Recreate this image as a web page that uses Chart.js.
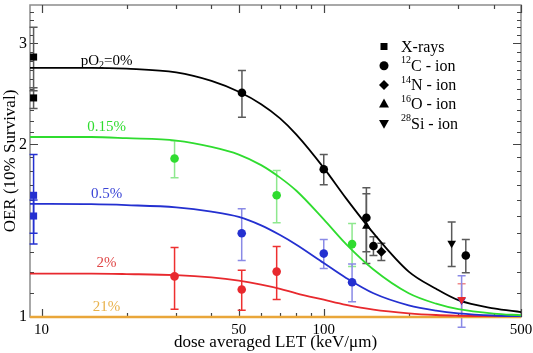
<!DOCTYPE html>
<html>
<head>
<meta charset="utf-8">
<script src="https://cdn.jsdelivr.net/npm/chart.js@4.4.1/dist/chart.umd.min.js"></script>
<style>
  html, body { margin: 0; padding: 0; background: #fff; }
  #wrap { width: 533px; height: 353px; }
</style>
</head>
<body>
<div id="wrap"><canvas id="oer" width="533" height="353"></canvas></div>
<script>
/* OER (10% survival) vs dose averaged LET, fitted curves per oxygen level */
const SERIF = "'Liberation Serif', 'Times New Roman', serif";

// fitted curves
const LET_GRID = [9.1, 15, 20, 30, 40, 50, 60, 70, 80, 100, 120, 150, 200, 250, 300, 400, 500];
const FIT_0   = [2.72, 2.72, 2.71, 2.67, 2.58, 2.47, 2.35, 2.22, 2.08, 1.82, 1.61, 1.40, 1.20, 1.12, 1.07, 1.035, 1.02];
const FIT_015 = [2.06, 2.06, 2.05, 2.03, 1.98, 1.92, 1.84, 1.75, 1.66, 1.48, 1.34, 1.21, 1.10, 1.055, 1.032, 1.014, 1.007];
const FIT_05  = [1.575, 1.573, 1.567, 1.553, 1.527, 1.495, 1.445, 1.39, 1.337, 1.242, 1.17, 1.10, 1.048, 1.026, 1.015, 1.006, 1.003];
const FIT_2   = [1.19, 1.19, 1.188, 1.183, 1.172, 1.157, 1.139, 1.12, 1.10, 1.072, 1.05, 1.03, 1.015, 1.008, 1.005, 1.002, 1.001];
const FIT_21  = [1, 1, 1, 1, 1, 1, 1, 1, 1, 1, 1, 1, 1, 1, 1, 1, 1];

// measured points (LET, OER, +/- error)
const XRAY_LET = [9.37, 9.37];
const XRAY_OER_0 = [2.84, 2.41];     const XRAY_ERR_0 = [0.36, 0.10];
const XRAY_OER_05 = [1.63, 1.50];    const XRAY_ERR_05 = [0.29, 0.10];

const C_LET_0 = [51.3, 100, 141.6, 150, 318.7];
const C_OER_0 = [2.46, 1.81, 1.49, 1.33, 1.28];
const C_ERR_0 = [0.23, 0.11, 0.19, 0.05, 0.085];
const N_LET_0 = [160];   const N_OER_0 = [1.30];  const N_ERR_0 = [0.045];
const O_LET_0 = [141.6]; const O_OER_0 = [1.44];  const O_ERR_0 = [0.20];
const SI_LET_0 = [284];  const SI_OER_0 = [1.345]; const SI_ERR_0 = [0.12];

const C_LET_015 = [29.6, 68.1, 126];
const C_OER_015 = [1.89, 1.63, 1.34];
const C_ERR_015 = [0.14, 0.17, 0.115];

const C_LET_05 = [51.2, 100, 126];
const C_OER_05 = [1.40, 1.29, 1.15];
const C_ERR_05 = [0.145, 0.075, 0.087];
const SI_LET_05 = [308]; const SI_OER_05 = [1.07]; const SI_ERR_05 = [0.11];

const C_LET_2 = [29.6, 51.2, 68.1];
const C_OER_2 = [1.177, 1.117, 1.20];
const C_ERR_2 = [0.145, 0.09, 0.127];
const SI_LET_2 = [308]; const SI_OER_2 = [1.073]; const SI_ERR_2 = [0.07];

// axes
const X_TICKS = [10, 20, 30, 40, 50, 60, 70, 80, 90, 100, 200, 300, 400, 500];
const X_LABELS = [10, 50, 100, 500];
const Y_TICKS = [1, 1.1, 1.2, 1.3, 1.4, 1.5, 1.6, 1.7, 1.8, 1.9, 2, 2.1, 2.2, 2.3, 2.4, 2.5, 2.6, 2.7, 2.8, 2.9, 3, 3.1, 3.2, 3.3, 3.4];
const Y_LABELS = [1, 2, 3];

const COL = { k:'#000000', g:'#2fdc2f', b:'#2430d0', r:'#e8292e', o:'#e9a63a' };
const ERRCOL = { k:'#5a5a5a', g:'#8ee88e', b:'#8a8ae6', r:'#ee3030', rl:'#f08a8a', bs:'#2430d0' };

const pts = (xs, ys) => xs.map((x, i) => ({ x: x, y: ys[i] }));

function markers(label, xs, ys, errs, style, color, errColor, rot) {
  return {
    type: 'scatter', label: label, data: pts(xs, ys), errors: errs, errColor: errColor,
    pointStyle: style, pointRotation: rot || 0, clip: false,
    pointRadius: style === 'circle' ? 4.3 : 5, pointHoverRadius: 5,
    backgroundColor: color, borderColor: color, borderWidth: 0
  };
}
function curve(label, ys, color) {
  return {
    type: 'line', label: label, data: pts(LET_GRID, ys),
    borderColor: color, borderWidth: 1.8, pointRadius: 0, fill: false,
    cubicInterpolationMode: 'monotone'
  };
}

const datasets = [
  markers('Si 2%', SI_LET_2, SI_OER_2, SI_ERR_2, 'triangle', COL.r, ERRCOL.rl, 180),
  markers('Si 0.5%', SI_LET_05, SI_OER_05, SI_ERR_05, 'triangle', COL.b, ERRCOL.b, 180),
  markers('X-rays 0%', XRAY_LET, XRAY_OER_0, XRAY_ERR_0, 'rect', COL.k, ERRCOL.k),
  markers('X-rays 0.5%', XRAY_LET, XRAY_OER_05, XRAY_ERR_05, 'rect', COL.b, ERRCOL.bs),
  markers('C 0%', C_LET_0, C_OER_0, C_ERR_0, 'circle', COL.k, ERRCOL.k),
  markers('N 0%', N_LET_0, N_OER_0, N_ERR_0, 'rectRot', COL.k, ERRCOL.k),
  markers('O 0%', O_LET_0, O_OER_0, O_ERR_0, 'triangle', COL.k, ERRCOL.k),
  markers('Si 0%', SI_LET_0, SI_OER_0, SI_ERR_0, 'triangle', COL.k, ERRCOL.k, 180),
  markers('C 0.15%', C_LET_015, C_OER_015, C_ERR_015, 'circle', COL.g, ERRCOL.g),
  markers('C 0.5%', C_LET_05, C_OER_05, C_ERR_05, 'circle', COL.b, ERRCOL.b),
  markers('C 2%', C_LET_2, C_OER_2, C_ERR_2, 'circle', COL.r, ERRCOL.r),
  curve('fit 0%', FIT_0, COL.k),
  curve('fit 0.15%', FIT_015, COL.g),
  curve('fit 0.5%', FIT_05, COL.b),
  curve('fit 2%', FIT_2, COL.r),
  Object.assign(curve('fit 21%', FIT_21, COL.o), { borderWidth: 2.6, clip: false })
];

// error bars under the markers
const errorBars = {
  id: 'errorBars',
  beforeDatasetsDraw(chart) {
    const ctx = chart.ctx, ys = chart.scales.y;
    chart.data.datasets.forEach((ds, di) => {
      if (!ds.errors) return;
      const meta = chart.getDatasetMeta(di);
      ctx.save();
      ctx.strokeStyle = ds.errColor;
      ctx.lineWidth = 1.5;
      meta.data.forEach((el, i) => {
        const v = ds.data[i].y, e = ds.errors[i];
        const top = ys.getPixelForValue(v + e), bot = ys.getPixelForValue(v - e);
        ctx.beginPath();
        ctx.moveTo(el.x, top); ctx.lineTo(el.x, bot);
        ctx.moveTo(el.x - 4, top); ctx.lineTo(el.x + 4, top);
        ctx.moveTo(el.x - 4, bot); ctx.lineTo(el.x + 4, bot);
        ctx.stroke();
      });
      ctx.restore();
    });
  }
};

// frame with inward ticks on all four sides
const frame = {
  id: 'frame',
  beforeDatasetsDraw(chart) {
    const { ctx, chartArea: a, scales } = chart;
    ctx.save();
    ctx.strokeStyle = '#8c8c8c';
    ctx.lineWidth = 1.5;
    ctx.strokeRect(a.left, a.top, a.right - a.left, a.bottom - a.top);
    ctx.strokeStyle = '#444';
    ctx.lineWidth = 1.2;
    ctx.beginPath();
    X_TICKS.forEach(v => {
      const px = Math.round(scales.x.getPixelForValue(v)) + 0.5;
      const len = X_LABELS.includes(v) ? 8 : 4;
      ctx.moveTo(px, a.bottom); ctx.lineTo(px, a.bottom - len);
      ctx.moveTo(px, a.top); ctx.lineTo(px, a.top + len);
    });
    Y_TICKS.forEach(v => {
      const py = Math.round(scales.y.getPixelForValue(v)) + 0.5;
      const len = Y_LABELS.includes(v) ? 8 : 4;
      ctx.moveTo(a.left, py); ctx.lineTo(a.left + len, py);
      ctx.moveTo(a.right, py); ctx.lineTo(a.right - len, py);
    });
    ctx.stroke();
    ctx.restore();
  }
};

function drawMarker(ctx, style, x, y, r, rot) {
  ctx.save();
  ctx.translate(x, y);
  ctx.rotate((rot || 0) * Math.PI / 180);
  ctx.beginPath();
  if (style === 'rect') { ctx.rect(-r * 0.7, -r * 0.7, r * 1.4, r * 1.4); }
  else if (style === 'circle') { ctx.arc(0, 0, r, 0, Math.PI * 2); }
  else if (style === 'rectRot') { ctx.moveTo(0, -r); ctx.lineTo(r, 0); ctx.lineTo(0, r); ctx.lineTo(-r, 0); ctx.closePath(); }
  else { ctx.moveTo(0, -r); ctx.lineTo(r * 0.9, r * 0.6); ctx.lineTo(-r * 0.9, r * 0.6); ctx.closePath(); }
  ctx.fill();
  ctx.restore();
}

// legend (with isotope superscripts) and curve labels
const LEGEND_ITEMS = [
  { sup: '', text: 'X-rays', style: 'rect', r: 5 },
  { sup: '12', text: 'C - ion', style: 'circle', r: 4.5 },
  { sup: '14', text: 'N - ion', style: 'rectRot', r: 5 },
  { sup: '16', text: 'O - ion', style: 'triangle', r: 5.5 },
  { sup: '28', text: 'Si - ion', style: 'triangle', r: 5.5, rot: 180 }
];
const CURVE_LABELS = [
  { x: 17, y: 2.79, text: 'pO', sub: '2', rest: '=0%', color: COL.k },
  { x: 17, y: 2.14, text: '0.15%', color: COL.g },
  { x: 17, y: 1.64, text: '0.5%', color: '#3b45d6' },
  { x: 17, y: 1.24, text: '2%', color: '#e04848' },
  { x: 17, y: 1.042, text: '21%', color: '#e8b24c' }
];

const annotations = {
  id: 'annotations',
  afterDraw(chart) {
    const { ctx, scales } = chart;
    ctx.save();
    ctx.textBaseline = 'middle';
    // legend
    LEGEND_ITEMS.forEach((it, i) => {
      const y = 46.5 + i * 19.2;
      ctx.fillStyle = '#000';
      drawMarker(ctx, it.style, 384, y, it.r, it.rot);
      let x = 401;
      if (it.sup) {
        ctx.font = '10px ' + SERIF;
        ctx.textAlign = 'left';
        ctx.fillText(it.sup, x, y - 5);
        x += ctx.measureText(it.sup).width;
      }
      ctx.font = '16px ' + SERIF;
      ctx.fillText(it.text, x, y + 1);
    });
    // curve labels
    CURVE_LABELS.forEach(l => {
      const cx = scales.x.getPixelForValue(l.x), cy = scales.y.getPixelForValue(l.y);
      ctx.fillStyle = l.color;
      ctx.font = '15px ' + SERIF;
      if (l.sub) {
        const w1 = ctx.measureText(l.text).width, w3 = ctx.measureText(l.rest).width;
        ctx.font = '10px ' + SERIF;
        const w2 = ctx.measureText(l.sub).width;
        let x = cx - (w1 + w2 + w3) / 2;
        ctx.textAlign = 'left';
        ctx.font = '15px ' + SERIF;
        ctx.fillText(l.text, x, cy); x += w1;
        ctx.font = '10px ' + SERIF;
        ctx.fillText(l.sub, x, cy + 4); x += w2;
        ctx.font = '15px ' + SERIF;
        ctx.fillText(l.rest, x, cy);
      } else {
        ctx.textAlign = 'center';
        ctx.fillText(l.text, cx, cy);
      }
    });
    ctx.restore();
  }
};

new Chart(document.getElementById('oer'), {
  data: { datasets: datasets },
  options: {
    responsive: false,
    animation: false,
    devicePixelRatio: 1,
    layout: { padding: { top: 3, right: 12, left: 0, bottom: 0 } },
    plugins: { legend: { display: false }, tooltip: { enabled: false } },
    scales: {
      x: {
        type: 'logarithmic', min: 9.1, max: 500,
        grid: { display: false, drawTicks: false }, border: { display: false },
        afterBuildTicks: s => { s.ticks = X_TICKS.map(v => ({ value: v })); },
        afterFit: s => { s.height = 36; s.paddingLeft = 0; s.paddingRight = 0; },
        ticks: {
          autoSkip: false, maxRotation: 0, padding: 4, color: '#000',
          font: { family: SERIF, size: 15 },
          callback: v => X_LABELS.includes(v) ? String(v) : ''
        },
        title: {
          display: true, text: 'dose averaged LET (keV/\u03bcm)', color: '#000',
          font: { family: SERIF, size: 17 }, padding: 0
        }
      },
      y: {
        type: 'logarithmic', min: 1, max: 3.5,
        grid: { display: false, drawTicks: false }, border: { display: false },
        afterBuildTicks: s => { s.ticks = Y_TICKS.map(v => ({ value: v })); },
        afterFit: s => { s.width = 30; s.paddingTop = 0; s.paddingBottom = 0; },
        ticks: {
          autoSkip: false, padding: 3, color: '#000',
          font: { family: SERIF, size: 16 },
          callback: v => Y_LABELS.includes(v) ? String(v) : ''
        },
        title: {
          display: true, text: 'OER (10% Survival)', color: '#000',
          font: { family: SERIF, size: 17 }, padding: 0
        }
      }
    }
  },
  plugins: [frame, errorBars, annotations]
});
</script>
</body>
</html>
